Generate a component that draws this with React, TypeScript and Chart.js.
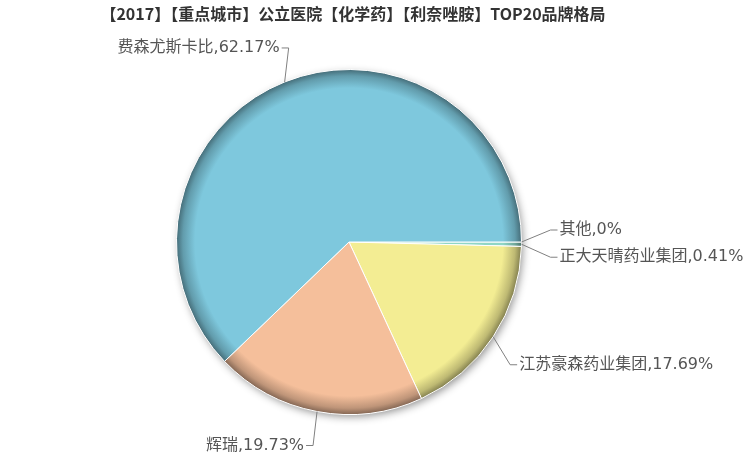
import { useEffect, useRef } from 'react';
import { Chart, registerables } from 'chart.js';

Chart.register(...registerables);

// clockwise from 3 o'clock
const brands = ['其他', '正大天晴药业集团', '江苏豪森药业集团', '辉瑞', '费森尤斯卡比'];
const shares = [0, 0.41, 17.69, 19.73, 62.17];
const sliceColors = ['#b9b9b9', '#8fd6c6', '#f3ed93', '#f5bf9b', '#7ec8dd'];
// bend point of each leader line, relative to the slice edge
const labelBend = [
  [29, -12],
  [29, 13],
  [17, 28],
  [-4, 34],
  [4, -34],
];

const TITLE = '【2017】【重点城市】公立医院【化学药】【利奈唑胺】TOP20品牌格局';

function shade(hex: string, f: number) {
  const n = parseInt(hex.slice(1), 16);
  const r = Math.round(((n >> 16) & 255) * f);
  const g = Math.round(((n >> 8) & 255) * f);
  const b = Math.round((n & 255) * f);
  return `rgb(${r},${g},${b})`;
}

const pieShadow = {
  id: 'pieShadow',
  beforeDatasetsDraw(chart: Chart) {
    const arc: any = chart.getDatasetMeta(0).data[0];
    if (!arc) return;
    const { x, y, outerRadius } = arc.getProps(['x', 'y', 'outerRadius'], true);
    const ctx = chart.ctx;
    ctx.save();
    ctx.shadowColor = 'rgba(0,0,0,0.45)';
    ctx.shadowBlur = 8;
    ctx.shadowOffsetX = 2;
    ctx.shadowOffsetY = 3;
    ctx.fillStyle = '#fff';
    ctx.beginPath();
    ctx.arc(x, y, outerRadius - 1, 0, Math.PI * 2);
    ctx.fill();
    ctx.restore();
  },
};

const pieLabels = {
  id: 'pieLabels',
  afterDatasetsDraw(chart: Chart) {
    const ctx = chart.ctx;
    const meta = chart.getDatasetMeta(0);
    ctx.save();
    meta.data.forEach((el: any, i: number) => {
      const { x, y, startAngle, endAngle, outerRadius } = el.getProps(
        ['x', 'y', 'startAngle', 'endAngle', 'outerRadius'],
        true
      );
      const mid = (startAngle + endAngle) / 2;
      const ax = x + Math.cos(mid) * outerRadius;
      const ay = y + Math.sin(mid) * outerRadius;
      const bx = ax + labelBend[i][0];
      const by = ay + labelBend[i][1];
      const side = bx >= x ? 1 : -1;
      const ex = bx + side * 7;
      ctx.strokeStyle = '#808080';
      ctx.lineWidth = 1;
      ctx.beginPath();
      ctx.moveTo(ax, ay);
      ctx.lineTo(bx, by);
      ctx.lineTo(ex, by);
      ctx.stroke();
      ctx.fillStyle = '#555';
      ctx.font = '16px "DejaVu Sans", "Noto Sans CJK SC", sans-serif';
      ctx.textAlign = side > 0 ? 'left' : 'right';
      ctx.textBaseline = 'middle';
      ctx.fillText(`${brands[i]},${shares[i]}%`, ex + side * 2, by);
    });
    ctx.fillStyle = '#333';
    ctx.font = 'bold 16px "Noto Sans CJK SC", sans-serif';
    ctx.textAlign = 'center';
    ctx.textBaseline = 'middle';
    ctx.fillText(TITLE, 353, 14);
    ctx.restore();
  },
};

function PieChart() {
  const canvasRef = useRef<HTMLCanvasElement>(null);
  const chartRef = useRef<Chart | null>(null);

  useEffect(() => {
    if (!canvasRef.current) return;
    chartRef.current?.destroy();

    chartRef.current = new Chart(canvasRef.current, {
      type: 'pie',
      data: {
        labels: brands,
        datasets: [
          {
            data: shares,
            borderColor: '#fff',
            borderWidth: 1,
            backgroundColor: (c: any) => {
              const base = sliceColors[c.dataIndex] ?? '#ccc';
              const area = c.chart.chartArea;
              if (!area) return base;
              const cx = (area.left + area.right) / 2;
              const cy = (area.top + area.bottom) / 2;
              const r = Math.min(area.width, area.height) / 2;
              const g = c.chart.ctx.createRadialGradient(cx, cy, 0, cx, cy, r);
              g.addColorStop(0, base);
              g.addColorStop(0.89, base);
              g.addColorStop(0.96, shade(base, 0.78));
              g.addColorStop(1, shade(base, 0.52));
              return g;
            },
          },
        ],
      },
      options: {
        responsive: false,
        animation: false,
        rotation: 90,
        layout: { padding: { top: 69, bottom: 47, left: 100, right: 150 } },
        plugins: {
          legend: { display: false },
          tooltip: { enabled: false },
          title: { display: false },
        },
      },
      plugins: [pieShadow, pieLabels],
    });

    return () => {
      chartRef.current?.destroy();
      chartRef.current = null;
    };
  }, []);

  return <canvas ref={canvasRef} width={748} height={462} />;
}

export default function App() {
  return (
    <div style={{ position: 'fixed', left: 0, top: 0, width: 748, height: 462, background: '#fff' }}>
      <PieChart />
    </div>
  );
}
